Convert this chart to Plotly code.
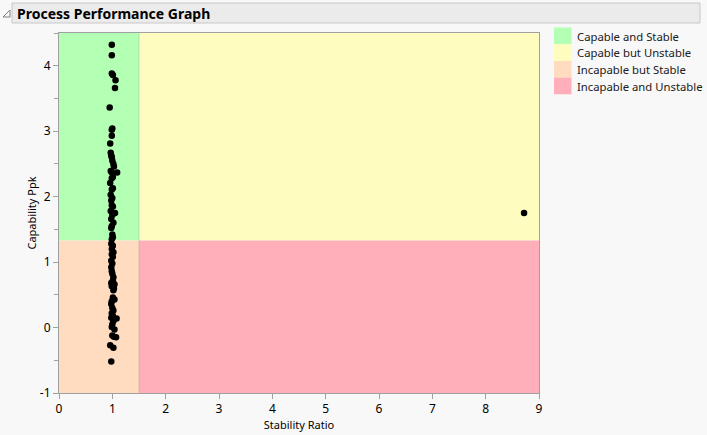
import plotly.graph_objects as go

# Data
stability_ratio = [
    0.99, 0.99, 0.99, 1.01, 1.06, 1.05, 0.95,
    1.00, 0.99, 0.99, 0.96, 0.97, 0.98, 0.99, 1.00, 1.02, 1.03, 0.97, 0.99, 1.09,
    1.01, 0.99, 0.96, 1.01, 0.99, 0.97, 1.00, 0.98, 0.99, 1.01, 0.97, 1.05, 1.00,
    0.98, 1.02, 0.99, 0.98, 1.00, 1.01, 0.99,
    0.98, 1.01, 0.99, 1.02, 0.99, 1.01, 0.98, 1.00, 0.98, 0.99, 1.00, 1.02, 1.01,
    0.98, 1.04, 0.99, 1.03, 1.02, 1.01, 1.04, 0.99, 0.98, 1.00, 1.02, 0.99, 1.01,
    1.08, 0.98, 1.02, 1.00, 0.99, 1.04, 1.03, 1.07, 1.00, 0.96, 1.02, 0.98,
    8.72,
]
capability_ppk = [
    4.32, 4.16, 3.88, 3.86, 3.78, 3.66, 3.36,
    3.04, 3.02, 2.93, 2.81, 2.67, 2.63, 2.60, 2.55, 2.50, 2.46, 2.39, 2.37, 2.37,
    2.30, 2.28, 2.21, 2.13, 2.11, 2.03, 1.98, 1.94, 1.87, 1.85, 1.78, 1.75, 1.72,
    1.66, 1.60, 1.55, 1.52, 1.42, 1.38, 1.35,
    1.28, 1.25, 1.20, 1.15, 1.12, 1.08, 1.02, 0.98, 0.92, 0.86, 0.82, 0.77, 0.72,
    0.68, 0.66, 0.63, 0.60, 0.57, 0.46, 0.43, 0.40, 0.36, 0.30, 0.26, 0.22, 0.18,
    0.14, 0.15, 0.10, 0.05, 0.01, -0.03, -0.14, -0.15, -0.12, -0.27, -0.31, -0.52,
    1.75,
]

region_names = ["Capable and Stable", "Capable but Unstable",
                "Incapable but Stable", "Incapable and Unstable"]
region_colors = ["#B3FFB3", "#FFFCC0", "#FFDBC0", "#FFAFBA"]
ratio_limit = 1.5
ppk_limit = 1.33
x_range = [0, 9]
y_range = [-1, 4.5]
y_tick_vals = [-1, 0, 1, 2, 3, 4]
y_tick_text = ["-1", "0", "1", "2", "3", "4"]

fig = go.Figure()

# Regions
bounds = [
    (x_range[0], ratio_limit, ppk_limit, y_range[1]),
    (ratio_limit, x_range[1], ppk_limit, y_range[1]),
    (x_range[0], ratio_limit, y_range[0], ppk_limit),
    (ratio_limit, x_range[1], y_range[0], ppk_limit),
]
for (x0, x1, y0, y1), c in zip(bounds, region_colors):
    fig.add_shape(type="rect", xref="x", yref="y", x0=x0, x1=x1, y0=y0, y1=y1,
                  fillcolor=c, line_width=0, layer="below")
fig.add_shape(type="line", xref="x", yref="y", x0=ratio_limit, x1=ratio_limit,
              y0=y_range[0], y1=y_range[1], line=dict(color="rgba(150,150,150,0.35)", width=1),
              layer="below")

fig.add_trace(go.Scatter(x=stability_ratio, y=capability_ppk, mode="markers",
                         marker=dict(color="black", size=6.5), showlegend=False,
                         hoverinfo="x+y"))

# Title bar
W, H = 707, 435
L, R, T, B = 59, 168, 33, 42
pw, ph = W - L - R, H - T - B
def px(x): return (x - L) / pw
def py(y): return 1 - (y - T) / ph

fig.add_shape(type="rect", xref="paper", yref="paper", x0=px(12), x1=px(700),
              y0=py(23), y1=py(3), fillcolor="#EBEBEB", line=dict(color="#C8C8C8", width=1))
fig.add_shape(type="path", xref="paper", yref="paper",
              path=f"M {px(3)} {py(17)} L {px(10)} {py(17)} L {px(10)} {py(10)} Z",
              fillcolor="rgba(0,0,0,0)", line=dict(color="#808080", width=1))
fig.add_annotation(xref="paper", yref="paper", x=px(15), y=py(13.5), xanchor="left",
                   yanchor="middle", text="<b>Process Performance Graph</b>", showarrow=False,
                   font=dict(family="Noto Sans", size=14, color="black"))

# Legend (manual)
for i, (name, c) in enumerate(zip(region_names, region_colors)):
    top = 27.5 + i * 16.7
    fig.add_shape(type="rect", xref="paper", yref="paper", x0=px(554), x1=px(571.5),
                  y0=py(top + 16.7), y1=py(top), fillcolor=c, line_width=0)
    fig.add_annotation(xref="paper", yref="paper", x=px(575), y=py(top + 8.6),
                       xanchor="left", yanchor="middle", text=name, showarrow=False,
                       font=dict(family="Noto Sans", size=11.3, color="#202020"))

axis_common = dict(showgrid=False, zeroline=False, showline=True, linecolor="#A0A0A0",
                   linewidth=1, mirror=True, ticks="outside", ticklen=5, tickcolor="#A0A0A0",
                   tickfont=dict(family="Noto Sans", size=12, color="black"))
fig.update_xaxes(range=x_range, dtick=1, title=dict(text="Stability Ratio", standoff=4,
                 font=dict(family="Noto Sans", size=11, color="black")), **axis_common)
fig.update_yaxes(range=y_range, tickvals=y_tick_vals, ticktext=y_tick_text,
                 minor=dict(dtick=0.5, ticks="outside", ticklen=4, tickcolor="#A0A0A0"),
                 title=dict(text="Capability Ppk", standoff=1,
                 font=dict(family="Noto Sans", size=11, color="black")), **axis_common)

fig.update_layout(width=W, height=H, margin=dict(l=L, r=R, t=T, b=B, autoexpand=False),
                  paper_bgcolor="#F8F8F8", plot_bgcolor="#F8F8F8", showlegend=False)

fig.write_html("out.html", config={"displayModeBar": False},
               post_script="document.body.style.margin='0';document.body.style.overflow='hidden';")
